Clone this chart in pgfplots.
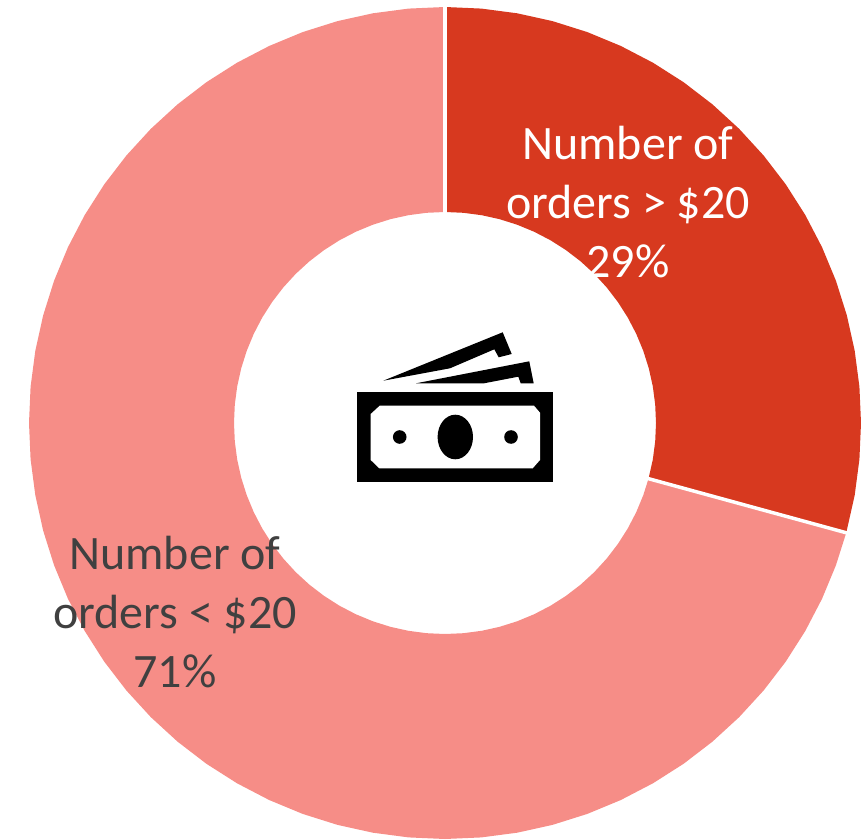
\documentclass[border=0pt]{standalone}
\usepackage{pgfplots}
\pgfplotsset{compat=1.18}
\usepackage{fontspec}
\setmainfont{Carlito}
\definecolor{darkred}{HTML}{D7391F}
\definecolor{lightred}{HTML}{F68D87}
\definecolor{txt}{HTML}{404040}
\begin{document}
\begin{tikzpicture}
\path[use as bounding box] (0,0) rectangle (861pt,839pt);
\begin{axis}[
  anchor=south west, at={(0,0)},
  scale only axis, width=861pt, height=839pt,
  xmin=-445, xmax=416, ymin=-416, ymax=423,
  hide axis, clip=false,
]
% Number of orders > $20: 29% (90 to -15.3 degrees), radii 416 and 211
\addplot[data cs=polar, draw=none, fill=darkred] coordinates {
(90,416)(85,416)(80,416)(75,416)(70,416)(65,416)(60,416)(55,416)(50,416)(45,416)(40,416)(35,416)(30,416)(25,416)(20,416)(15,416)(10,416)(5,416)(0,416)(-5,416)(-10,416)(-15.3,416)
(-15.3,211)(-10,211)(-5,211)(0,211)(5,211)(10,211)(15,211)(20,211)(25,211)(30,211)(35,211)(40,211)(45,211)(50,211)(55,211)(60,211)(65,211)(70,211)(75,211)(80,211)(85,211)(90,211)
} -- cycle;
% Number of orders < $20: 71% (-15.3 to -270 degrees)
\addplot[data cs=polar, draw=none, fill=lightred] coordinates {
(-15.3,416)(-20,416)(-25,416)(-30,416)(-35,416)(-40,416)(-45,416)(-50,416)(-55,416)(-60,416)(-65,416)(-70,416)(-75,416)(-80,416)(-85,416)(-90,416)(-95,416)(-100,416)(-105,416)(-110,416)(-115,416)(-120,416)(-125,416)(-130,416)(-135,416)(-140,416)(-145,416)(-150,416)(-155,416)(-160,416)(-165,416)(-170,416)(-175,416)(-180,416)(-185,416)(-190,416)(-195,416)(-200,416)(-205,416)(-210,416)(-215,416)(-220,416)(-225,416)(-230,416)(-235,416)(-240,416)(-245,416)(-250,416)(-255,416)(-260,416)(-265,416)(-270,416)
(-270,211)(-265,211)(-260,211)(-255,211)(-250,211)(-245,211)(-240,211)(-235,211)(-230,211)(-225,211)(-220,211)(-215,211)(-210,211)(-205,211)(-200,211)(-195,211)(-190,211)(-185,211)(-180,211)(-175,211)(-170,211)(-165,211)(-160,211)(-155,211)(-150,211)(-145,211)(-140,211)(-135,211)(-130,211)(-125,211)(-120,211)(-115,211)(-110,211)(-105,211)(-100,211)(-95,211)(-90,211)(-85,211)(-80,211)(-75,211)(-70,211)(-65,211)(-60,211)(-55,211)(-50,211)(-45,211)(-40,211)(-35,211)(-30,211)(-25,211)(-20,211)(-15.3,211)
} -- cycle;
% separators
\addplot[data cs=polar, white, line width=3.5pt] coordinates {(90,209)(90,418)};
\addplot[data cs=polar, white, line width=3.5pt] coordinates {(-15.3,209)(-15.3,418)};
% icon
\addplot[draw=none, fill=black] coordinates {(-61.7,42.3)(57.7,90.7)(66.7,69)(53.7,65.7)(49.3,73.7)(5,54.7)} -- cycle;
\addplot[draw=none, fill=black] coordinates {(-29,39.7)(84.3,61.7)(88.7,39.7)(75.7,39.7)(73.3,46.3)(39,39.7)} -- cycle;
\addplot[draw=none, fill=black] coordinates {(-87.7,30.7)(108.3,30.7)(108.3,-58.7)(-87.7,-58.7)} -- cycle;
\addplot[draw=none, fill=white] coordinates {(-65.3,17.3)(89,17.3)(95,10.3)(95,-37)(87.7,-45.3)(-65.7,-45.3)(-74.3,-37)(-74.3,9)} -- cycle;
\fill[black] (axis cs:10.3,-14) ellipse [x radius=17.7pt, y radius=22.3pt];
\fill[black] (axis cs:-45.3,-14) circle [radius=6.8pt];
\fill[black] (axis cs:66,-14) circle [radius=6.8pt];
% labels
\node[white, align=center, font=\fontsize{48}{59}\selectfont] at (axis cs:183,221) {Number of\\orders > \$20\\29\%};
\node[txt, align=center, font=\fontsize{48}{59}\selectfont] at (axis cs:-270,-189) {Number of\\orders < \$20\\71\%};
\end{axis}
\end{tikzpicture}
\end{document}
